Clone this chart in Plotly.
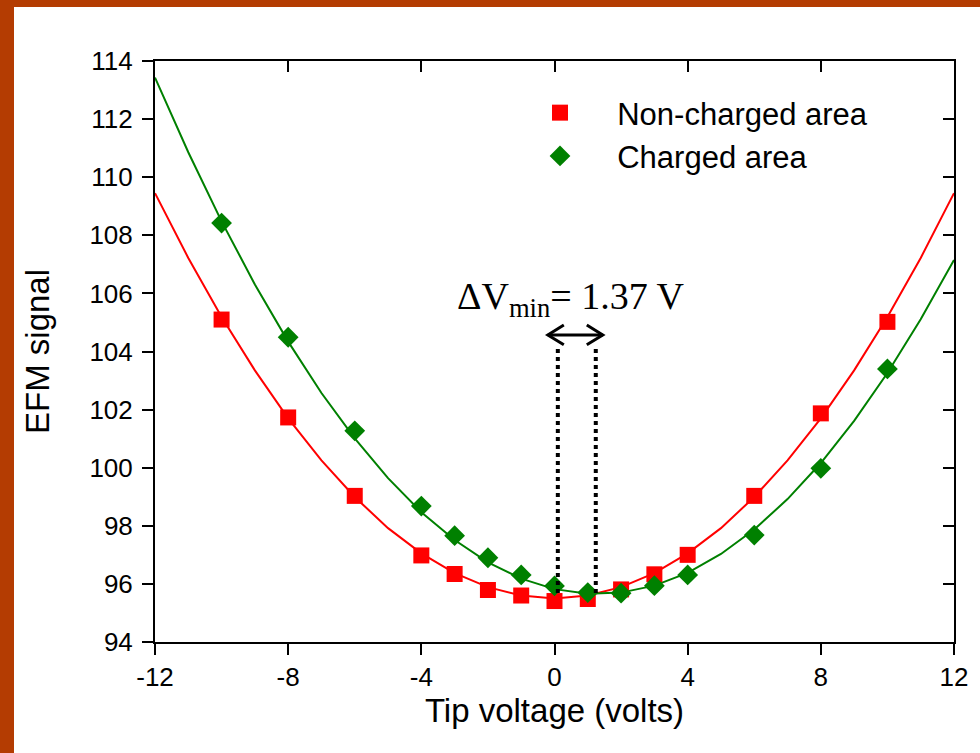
import plotly.graph_objects as go

# ---- data ----
volt_points = [-10, -8, -6, -4, -3, -2, -1, 0, 1, 2, 3, 4, 6, 8, 10]
noncharged = [105.1, 101.73, 99.03, 96.98, 96.34, 95.79, 95.6, 95.41, 95.48, 95.81, 96.33, 97.0, 99.03, 101.87, 105.02]
charged = [108.42, 104.49, 101.27, 98.68, 97.66, 96.9, 96.31, 95.93, 95.7, 95.68, 95.94, 96.31, 97.68, 99.98, 103.4]

fit_x = list(range(-12, 13))
noncharged_fit = [109.45, 107.22, 105.19, 103.35, 101.70, 100.25, 98.99, 97.92, 97.05, 96.37, 95.89, 95.60,
                  95.50, 95.60, 95.89, 96.37, 97.05, 97.92, 98.99, 100.25, 101.70, 103.35, 105.19, 107.22, 109.45]
charged_fit = [113.43, 110.86, 108.48, 106.31, 104.34, 102.57, 101.01, 99.64, 98.47, 97.51, 96.74, 96.18,
               95.82, 95.66, 95.70, 95.94, 96.38, 97.03, 97.87, 98.92, 100.16, 101.61, 103.26, 105.11, 107.15]

x_ticks = [-12, -8, -4, 0, 4, 8, 12]
x_tick_labels = ["-12", "-8", "-4", "0", "4", "8", "12"]
y_ticks = [94, 96, 98, 100, 102, 104, 106, 108, 110, 112, 114]
y_tick_labels = [str(v) for v in y_ticks]

# annotation geometry (data units)
vmin_left = 0.1
vmin_right = 1.24
dot_top = 104.15
dot_bottom = 95.69
arrow_y = 104.57

RED = "#FF0000"
GREEN = "#008000"
BORDER = "#B43C02"
FONT = "Liberation Sans, Arial, sans-serif"

fig = go.Figure()
fig.add_trace(go.Scatter(x=fit_x, y=noncharged_fit, mode="lines", line=dict(color=RED, width=2),
                         showlegend=False, hoverinfo="skip"))
fig.add_trace(go.Scatter(x=fit_x, y=charged_fit, mode="lines", line=dict(color=GREEN, width=2),
                         showlegend=False, hoverinfo="skip"))
fig.add_trace(go.Scatter(x=volt_points, y=noncharged, mode="markers", name="\u2003\u2009Non-charged area",
                         marker=dict(symbol="square", size=16, color=RED), legendgroup="a"))
fig.add_trace(go.Scatter(x=volt_points, y=charged, mode="markers", name="\u2003\u2009Charged area",
                         marker=dict(symbol="diamond", size=16, color=GREEN), legendgroup="b"))
# invisible trace for mirrored (inside) ticks on top/right
fig.add_trace(go.Scatter(x=[x_ticks[0]], y=[y_ticks[0]], xaxis="x2", yaxis="y2", mode="markers",
                         marker=dict(opacity=0), showlegend=False, hoverinfo="skip"))

# dotted verticals
for xv in (vmin_left, vmin_right):
    fig.add_shape(type="line", xref="x", yref="y", x0=xv, x1=xv, y0=dot_bottom, y1=dot_top,
                  line=dict(color="black", width=4, dash="4px,4px"))
# double arrow
ax0, ax1 = -0.2, 1.45
hw, hh = 0.48, 0.34
fig.add_shape(type="line", xref="x", yref="y", x0=ax0, x1=ax1, y0=arrow_y, y1=arrow_y,
              line=dict(color="black", width=3))
fig.add_shape(type="path", xref="x", yref="y",
              path=f"M {ax0+hw},{arrow_y+hh} L {ax0},{arrow_y} L {ax0+hw},{arrow_y-hh}",
              line=dict(color="black", width=3))
fig.add_shape(type="path", xref="x", yref="y",
              path=f"M {ax1-hw},{arrow_y+hh} L {ax1},{arrow_y} L {ax1-hw},{arrow_y-hh}",
              line=dict(color="black", width=3))

fig.add_annotation(x=0.5, y=105.8, xref="x", yref="y", showarrow=False,
                   text="ΔV<sub>min</sub>= 1.37 V",
                   font=dict(family="Liberation Serif, Times New Roman, serif", size=38, color="black"))

# orange border strips (left and top)
fig.add_shape(type="rect", xref="paper", yref="paper", x0=-155/799, x1=(14-155)/799,
              y0=(642-760)/581, y1=(642+5)/581, fillcolor=BORDER, line=dict(width=0), layer="above")
fig.add_shape(type="rect", xref="paper", yref="paper", x0=-155/799, x1=(990-155)/799,
              y0=(642-7)/581, y1=(642+5)/581, fillcolor=BORDER, line=dict(width=0), layer="above")

axis_common = dict(showgrid=False, zeroline=False, linecolor="black", linewidth=2,
                   ticklen=11, tickwidth=2, tickcolor="black")
fig.update_layout(
    width=980, height=753,
    margin=dict(l=155, r=26, t=61, b=111),
    paper_bgcolor="white", plot_bgcolor="white",
    font=dict(family=FONT, size=26, color="black"),
    xaxis=dict(range=[-12, 12], tickvals=x_ticks, ticktext=x_tick_labels, ticks="outside", showline=True,
               title=dict(text="Tip voltage (volts)", font=dict(size=33), standoff=4),
               tickfont=dict(size=26), ticklabelstandoff=0, **axis_common),
    yaxis=dict(range=[94, 114], tickvals=y_ticks, ticktext=y_tick_labels, ticks="outside", showline=True,
               title=dict(text="EFM signal", font=dict(size=33), standoff=30),
               tickfont=dict(size=26), ticklabelstandoff=4, **axis_common),
    xaxis2=dict(range=[-12, 12], tickvals=x_ticks, ticks="inside", showline=True, side="top",
                overlaying="x", showticklabels=False, **axis_common),
    yaxis2=dict(range=[94, 114], tickvals=y_ticks, ticks="inside", showline=True, side="right",
                overlaying="y", showticklabels=False, **axis_common),
    legend=dict(x=(540-155)/799, y=(642-86)/581, xanchor="left", yanchor="top",
                bgcolor="rgba(0,0,0,0)", font=dict(size=31), tracegroupgap=0,
                traceorder="grouped"),
    showlegend=True,
)

fig.write_html("out.html")
